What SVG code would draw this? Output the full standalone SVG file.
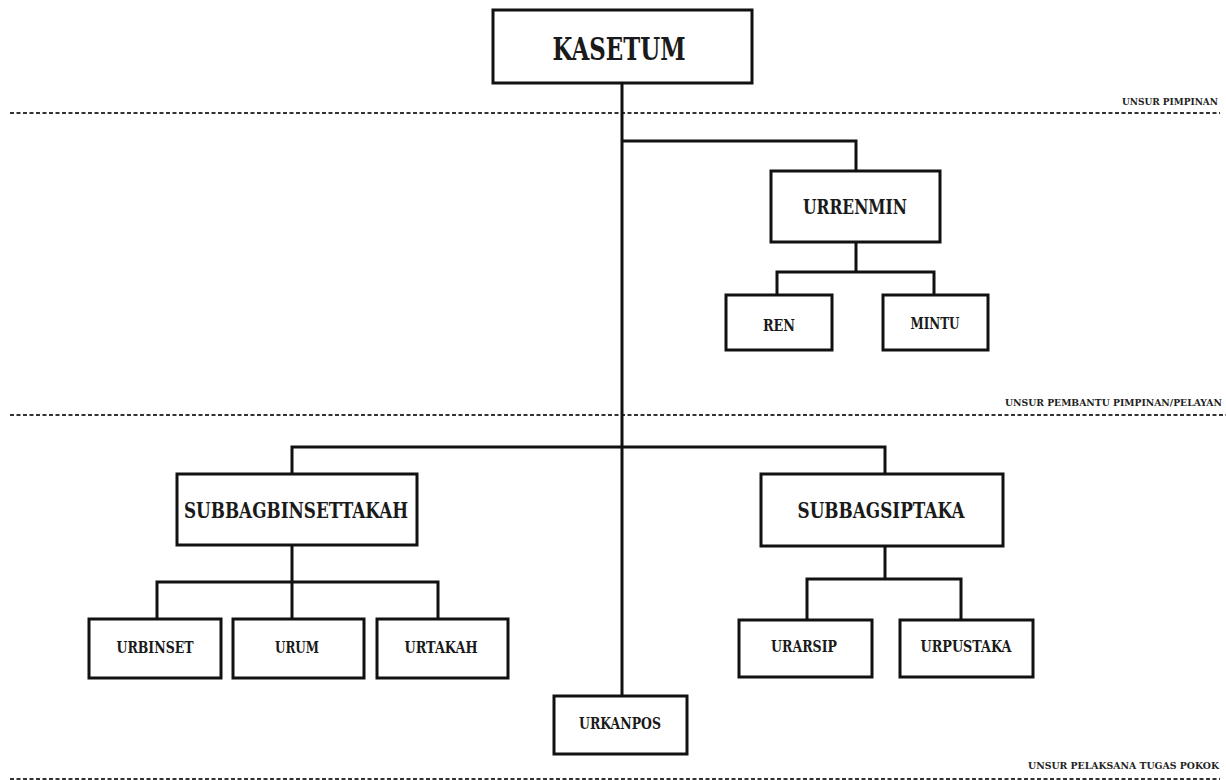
<svg xmlns="http://www.w3.org/2000/svg" width="1226" height="780" viewBox="0 0 1226 780">
<style>
.box{fill:#fff;stroke:#111;stroke-width:3}
.lbl{font-family:"DejaVu Serif","Liberation Serif",serif;font-weight:bold;fill:#1a1a1a;text-anchor:middle}
.conn{fill:none;stroke:#111;stroke-width:3}
.dash{stroke:#333;stroke-width:2;stroke-dasharray:4 2.5}
.zone{font-family:"DejaVu Serif","Liberation Serif",serif;font-weight:bold;fill:#222;font-size:9.5px}
</style>
<rect width="1226" height="780" fill="#fff"/>
<g id="zones">
<line class="dash" x1="10" y1="113" x2="1220" y2="113"/>
<text class="zone" x="1122" y="105" textLength="96" lengthAdjust="spacingAndGlyphs">UNSUR PIMPINAN</text>
<line class="dash" x1="10" y1="415" x2="1226" y2="415"/>
<text class="zone" x="1005" y="406" textLength="217" lengthAdjust="spacingAndGlyphs">UNSUR  PEMBANTU PIMPINAN/PELAYAN</text>
<line class="dash" x1="10" y1="779" x2="1220" y2="779" stroke="#888"/>
<text class="zone" x="1028" y="769" textLength="191" lengthAdjust="spacingAndGlyphs">UNSUR PELAKSANA TUGAS POKOK</text>
</g>
<g id="connectors">
<path class="conn" d="M622 83 V697"/>
<path class="conn" d="M622 141 H856 V171"/>
<path class="conn" d="M856 242 V272 M777 295 V272 H934 V295"/>
<path class="conn" d="M292 474 V447 H885 V474"/>
<path class="conn" d="M292 545 V582 M157 619 V582 H438 V619 M292 582 V619"/>
<path class="conn" d="M885 546 V579 M807 620 V579 H961 V620"/>
</g>
<g id="kasetum">
<rect class="box" x="493" y="10" width="259" height="73"/>
<text class="lbl" x="619" y="60" font-size="31" textLength="133" lengthAdjust="spacingAndGlyphs">KASETUM</text>
</g>
<g id="urrenmin">
<rect class="box" x="771" y="171" width="169" height="71"/>
<text class="lbl" x="855" y="214" font-size="21" textLength="104" lengthAdjust="spacingAndGlyphs">URRENMIN</text>
</g>
<g id="ren">
<rect class="box" x="726" y="295" width="106" height="55"/>
<text class="lbl" x="779" y="331" font-size="16" textLength="32" lengthAdjust="spacingAndGlyphs">REN</text>
</g>
<g id="mintu">
<rect class="box" x="883" y="295" width="105" height="55"/>
<text class="lbl" x="935" y="329" font-size="16" textLength="49" lengthAdjust="spacingAndGlyphs">MINTU</text>
</g>
<g id="subbagbinsettakah">
<rect class="box" x="177" y="474" width="240" height="71"/>
<text class="lbl" x="296" y="518" font-size="23" textLength="224" lengthAdjust="spacingAndGlyphs">SUBBAGBINSETTAKAH</text>
</g>
<g id="subbagsiptaka">
<rect class="box" x="761" y="474" width="242" height="72"/>
<text class="lbl" x="881" y="518" font-size="23" textLength="167" lengthAdjust="spacingAndGlyphs">SUBBAGSIPTAKA</text>
</g>
<g id="urbinset">
<rect class="box" x="89" y="619" width="132" height="59"/>
<text class="lbl" x="155" y="653" font-size="17" textLength="77" lengthAdjust="spacingAndGlyphs">URBINSET</text>
</g>
<g id="urum">
<rect class="box" x="233" y="619" width="131" height="59"/>
<text class="lbl" x="297" y="653" font-size="17" textLength="44" lengthAdjust="spacingAndGlyphs">URUM</text>
</g>
<g id="urtakah">
<rect class="box" x="377" y="619" width="131" height="59"/>
<text class="lbl" x="441" y="653" font-size="17" textLength="73" lengthAdjust="spacingAndGlyphs">URTAKAH</text>
</g>
<g id="urarsip">
<rect class="box" x="739" y="620" width="133" height="57"/>
<text class="lbl" x="804" y="652" font-size="17" textLength="66" lengthAdjust="spacingAndGlyphs">URARSIP</text>
</g>
<g id="urpustaka">
<rect class="box" x="900" y="620" width="133" height="57"/>
<text class="lbl" x="966" y="652" font-size="17" textLength="91" lengthAdjust="spacingAndGlyphs">URPUSTAKA</text>
</g>
<g id="urkanpos">
<rect class="box" x="554" y="696" width="133" height="58"/>
<text class="lbl" x="620" y="729" font-size="17" textLength="82" lengthAdjust="spacingAndGlyphs">URKANPOS</text>
</g>
</svg>
